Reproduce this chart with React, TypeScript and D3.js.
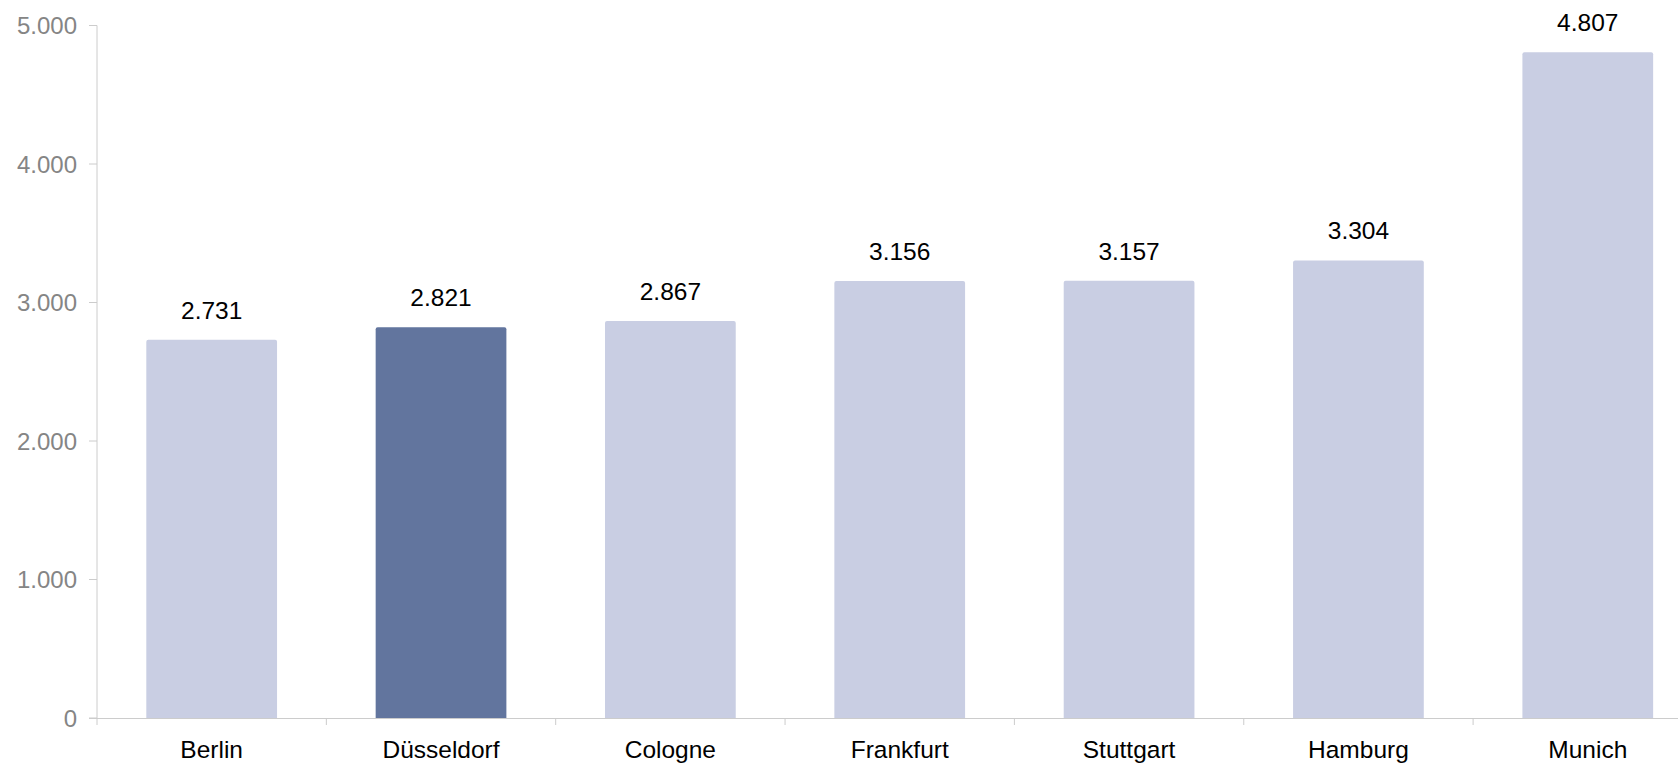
import React from "react";
import * as d3 from "d3";

const categories = ["Berlin", "Düsseldorf", "Cologne", "Frankfurt", "Stuttgart", "Hamburg", "Munich"];
const values = [2731, 2821, 2867, 3156, 3157, 3304, 4807];
const highlighted = ["Düsseldorf"];
const yTicks = [0, 1000, 2000, 3000, 4000, 5000];

const W = 1678;
const H = 765;
const left = 97;
const bandW = 229.35;
const baseY = 718;
const topY = 25.5;

const fmt = (v: number) => d3.format(",")(v).replace(/,/g, ".");

export default function App() {
  const x = d3
    .scaleBand<string>()
    .domain(categories)
    .range([left, left + bandW * categories.length])
    .paddingInner(0.43)
    .paddingOuter(0.215);
  const y = d3.scaleLinear().domain([0, 5000]).range([baseY, topY]);
  const font = "'Liberation Sans', Arial, Helvetica, sans-serif";
  const step = bandW;
  const r = 2;

  const barPath = (x0: number, w: number, yt: number) => {
    const x1 = x0 + w;
    return `M${x0},${baseY}V${yt + r}Q${x0},${yt} ${x0 + r},${yt}H${x1 - r}Q${x1},${yt} ${x1},${yt + r}V${baseY}Z`;
  };

  return (
    <svg width={W} height={H} style={{ position: "absolute", left: 0, top: 0 }} fontFamily={font}>
      {/* y axis */}
      <line x1={left} x2={left} y1={y(5000)} y2={baseY + 7} stroke="#cccccc" strokeWidth={1} />
      {yTicks.map((t) => (
        <g key={t}>
          <line x1={left - 8} x2={left} y1={y(t)} y2={y(t)} stroke="#cccccc" strokeWidth={1} />
          <text x={left - 20} y={y(t)} dy="0.36em" textAnchor="end" fontSize={24} fill="#858585">
            {t === 0 ? "0" : fmt(t)}
          </text>
        </g>
      ))}
      {/* bars */}
      {categories.map((c, i) => (
        <path
          key={c}
          d={barPath(x(c)!, x.bandwidth(), y(values[i]))}
          fill={highlighted.includes(c) ? "#62759e" : "#c9cee3"}
        />
      ))}
      {/* x axis baseline */}
      <line x1={left - 8} x2={W} y1={baseY + 0.5} y2={baseY + 0.5} stroke="#cccccc" strokeWidth={1} />
      {categories.map((c, i) => (
        <line
          key={"t" + c}
          x1={left + step * (i + 1)}
          x2={left + step * (i + 1)}
          y1={baseY}
          y2={baseY + 7}
          stroke="#cccccc"
          strokeWidth={1}
        />
      ))}
      {/* value labels */}
      {categories.map((c, i) => (
        <text
          key={"v" + c}
          x={x(c)! + x.bandwidth() / 2}
          y={y(values[i]) - 21}
          textAnchor="middle"
          fontSize={24.5}
          fill="#000000"
        >
          {fmt(values[i])}
        </text>
      ))}
      {/* category labels */}
      {categories.map((c) => (
        <text
          key={"c" + c}
          x={x(c)! + x.bandwidth() / 2}
          y={758}
          textAnchor="middle"
          fontSize={24.5}
          fill="#000000"
        >
          {c}
        </text>
      ))}
    </svg>
  );
}
